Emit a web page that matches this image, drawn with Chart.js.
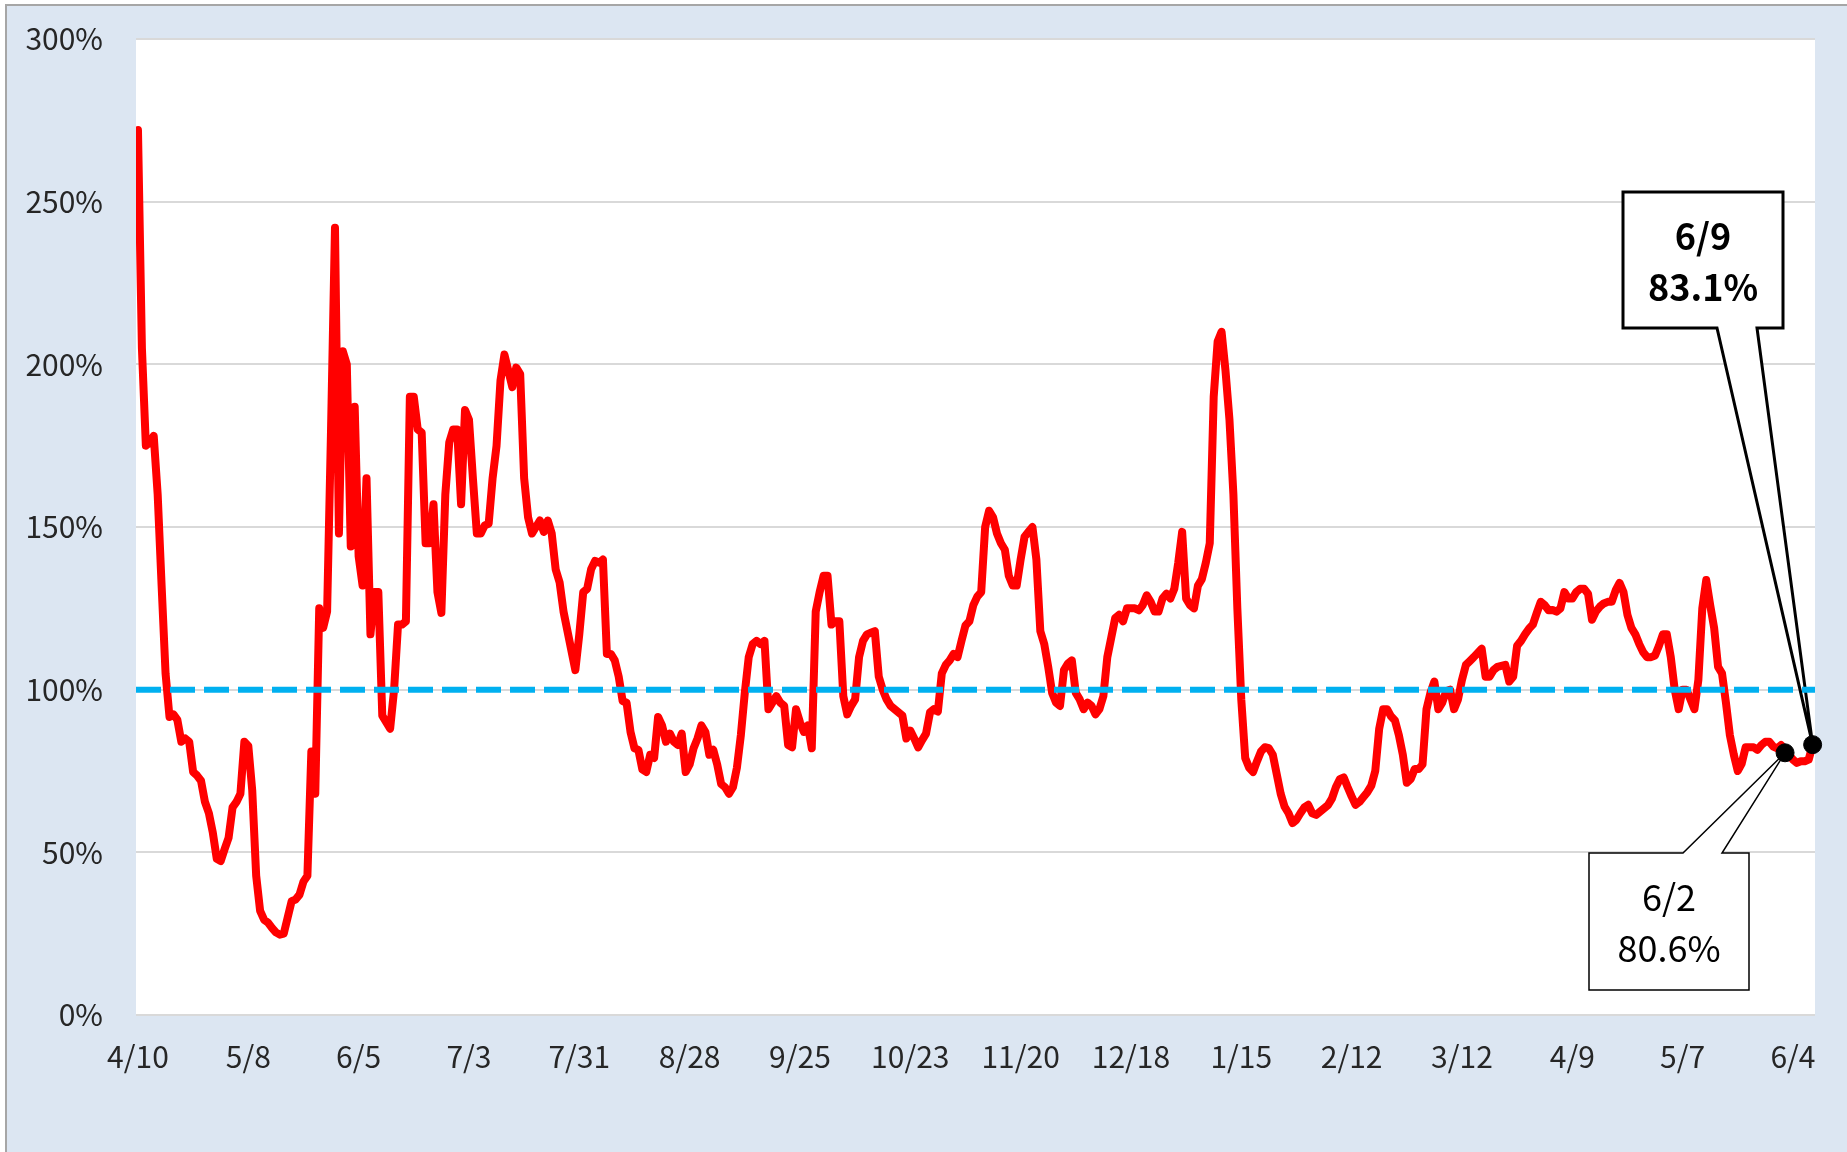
<!DOCTYPE html>
<html lang="ja">
<head>
<meta charset="utf-8">
<title>chart</title>
<script src="https://cdn.jsdelivr.net/npm/chart.js@4.4.1/dist/chart.umd.min.js"></script>
<style>
  html, body { margin: 0; padding: 0; background: #fff; }
  #wrap { position: relative; width: 1847px; height: 1152px; }
</style>
</head>
<body>
<div id="wrap"><canvas id="grafico"></canvas></div>
<script>
// x axis tick labels, one every 28 days starting 4/10
const tickLabels = ["4/10", "5/8", "6/5", "7/3", "7/31", "8/28", "9/25", "10/23",
  "11/20", "12/18", "1/15", "2/12", "3/12", "4/9", "5/7", "6/4"];
const tickStep = 28;

// daily ratio (%) from 4/10 to 6/9
const ratio = [
  272, 205, 175, 176, 178, 160, 132, 105, 91.6, 92.4,
  90.7, 84, 85, 84, 74.7, 73.6, 72, 65.5, 62, 56,
  48, 47.3, 51, 54.5, 63.8, 65.5, 68, 84, 82.7, 69,
  42.8, 32, 29.3, 28.4, 26.8, 25.4, 24.7, 25, 30, 35,
  35.5, 37, 41, 42.8, 81, 68, 125, 119, 124, 180,
  242, 148, 204, 200, 144, 187, 141, 132, 165, 117,
  130, 130, 92, 90, 88, 100, 120, 120, 121, 190,
  190, 180, 179, 145, 145, 157, 130, 123.6, 160, 176,
  180, 180, 157, 186, 183, 165, 148, 148, 150.5, 151,
  165, 175, 195, 203, 198, 193, 199, 197, 165, 153,
  148, 150, 152, 148.5, 152, 148, 137, 133, 124, 118,
  112, 106, 117, 130, 131, 137, 139.6, 139, 140, 111,
  111, 109, 104, 96.5, 96, 87, 82, 81.5, 75.5, 74.7,
  80, 79, 91.6, 89, 84, 86.5, 84, 83, 86.5, 74.7,
  77, 82, 85, 89, 87, 80, 81.5, 77, 71, 70,
  68, 70, 76, 86, 99, 110, 114, 115, 114, 115,
  94, 96, 98, 96, 95, 83, 82.3, 94, 90, 87,
  89, 82, 124, 130, 135, 135, 120, 121, 121, 98,
  92.4, 95, 97, 110, 115, 117, 117.5, 118, 104, 100,
  97, 95, 94, 93, 92, 85, 87.4, 85, 82.3, 84.5,
  86.5, 93, 94, 93.3, 105, 107.6, 109, 111, 110, 115,
  119.7, 121, 126, 128.6, 130, 150, 155, 153, 148, 145,
  143, 135, 132, 132, 140, 147, 148.5, 150, 140, 118,
  114, 107, 99, 96, 95, 106, 108, 109, 99, 97,
  94, 96, 95, 92.4, 94, 98, 110, 116, 122, 123,
  121, 125, 125, 125, 124.4, 126, 129, 127, 124, 124,
  128, 129.5, 128, 131, 139, 148.5, 128, 126, 125, 132,
  134, 139, 145, 190, 207, 210, 198, 183, 160, 125,
  97, 79, 76, 74.7, 78, 81, 82.3, 82, 80, 74,
  68, 64, 62, 59, 60, 62, 63.8, 64.6, 62, 61.5,
  62.5, 63.5, 64.5, 66.5, 70, 72.5, 73, 70, 67.2, 64.6,
  65.5, 67, 68.5, 70.5, 75, 88, 94, 94, 91.8, 90.5,
  86, 80, 71.4, 72.5, 75.6, 75.6, 77, 94, 99, 102.5,
  94, 96, 99.5, 100, 94, 97, 103, 107.6, 108.8, 110,
  111.3, 112.6, 104, 104, 106, 107, 107.3, 107.6, 102.5, 104,
  113.5, 115, 117, 118.7, 120, 123.6, 127, 126, 124.4, 124.5,
  124, 125, 130, 128, 128, 130, 131, 131, 129.5, 121.5,
  124, 125.5, 126.5, 127, 127, 130.5, 132.8, 130, 123, 119,
  117, 114, 111.5, 110, 110, 110.5, 113.5, 117, 117, 110,
  100, 94, 100, 100, 97, 94, 103, 125, 133.7, 126,
  119, 107, 105, 96, 86, 80, 75, 77.3, 82.3, 82.3,
  82.3, 81.5, 83, 84, 84, 82.5, 82, 83, 80.6, 80,
  78.5, 77.5, 78, 78, 78.5, 83.1
];

// highlighted points (day index from 4/10) and their labels
const markerDays = [418, 425];
const markerValues = [80.6, 83.1];
const markerTexts = [["6/2", "80.6%"], ["6/9", "83.1%"]];

const baseLine = 100;

const fontFamily = "'Noto Sans CJK JP', 'Noto Sans', sans-serif";
const xMin = -0.5;
const xMax = 425.6;

// callout boxes (pixels) for each marker
const callouts = [
  { box: [1589, 853, 160, 137], base: [1683, 1722], side: "top", bold: false, border: 1.5 },
  { box: [1623, 192, 160, 136], base: [1717, 1757], side: "bottom", bold: true, border: 3 }
];

const ctx = document.getElementById("grafico").getContext("2d");

const points = ratio.map((v, i) => ({ x: i, y: v }));
const markers = markerDays.map((d, i) => ({ x: d, y: markerValues[i] }));

const background = {
  id: "background",
  beforeDraw(chart) {
    const c = chart.ctx;
    const a = chart.chartArea;
    c.save();
    c.fillStyle = "#ffffff";
    c.fillRect(0, 0, chart.width, chart.height);
    c.fillStyle = "#dce6f2";
    c.fillRect(6, 5, chart.width - 6, chart.height - 5);
    c.strokeStyle = "#a6a6a6";
    c.lineWidth = 2;
    c.beginPath();
    c.moveTo(6, chart.height);
    c.lineTo(6, 5);
    c.lineTo(chart.width, 5);
    c.stroke();
    c.fillStyle = "#ffffff";
    c.fillRect(a.left, a.top, a.right - a.left, a.bottom - a.top);
    c.restore();
  }
};

function drawCallout(c, cfg, tip, lines) {
  const [x, y, w, h] = cfg.box;
  c.beginPath();
  if (cfg.side === "bottom") {
    c.moveTo(x, y);
    c.lineTo(x + w, y);
    c.lineTo(x + w, y + h);
    c.lineTo(cfg.base[1], y + h);
    c.lineTo(tip.x, tip.y);
    c.lineTo(cfg.base[0], y + h);
    c.lineTo(x, y + h);
  } else {
    c.moveTo(x, y);
    c.lineTo(cfg.base[0], y);
    c.lineTo(tip.x, tip.y);
    c.lineTo(cfg.base[1], y);
    c.lineTo(x + w, y);
    c.lineTo(x + w, y + h);
    c.lineTo(x, y + h);
  }
  c.closePath();
  c.fillStyle = "#ffffff";
  c.fill();
  c.lineWidth = cfg.border;
  c.lineJoin = "miter";
  c.strokeStyle = "#000000";
  c.stroke();

  c.fillStyle = "#000000";
  c.textAlign = "center";
  c.textBaseline = "middle";
  c.font = (cfg.bold ? "bold " : "") + "36px " + fontFamily;
  const cx = x + w / 2;
  const cy = y + h / 2;
  c.fillText(lines[0], cx, cy - 24);
  c.fillText(lines[1], cx, cy + 27);
}

const calloutPlugin = {
  id: "callouts",
  beforeDatasetsDraw(chart) {
    const c = chart.ctx;
    const sx = chart.scales.x;
    const sy = chart.scales.y;
    c.save();
    callouts.forEach((cfg, i) => {
      const tip = { x: sx.getPixelForValue(markerDays[i]), y: sy.getPixelForValue(markerValues[i]) };
      drawCallout(c, cfg, tip, markerTexts[i]);
    });
    c.restore();
  }
};

Chart.defaults.font.family = fontFamily;

const chart = new Chart(ctx, {
  type: "line",
  data: {
    datasets: [
      {
        label: "marker",
        data: markers,
        showLine: false,
        pointRadius: 9,
        pointBackgroundColor: "#000000",
        pointBorderColor: "#000000",
        clip: false,
        order: 0
      },
      {
        label: "100%",
        data: [{ x: xMin, y: baseLine }, { x: xMax, y: baseLine }],
        borderColor: "#00b0f0",
        borderWidth: 6,
        borderDash: [25, 9],
        pointRadius: 0,
        order: 1
      },
      {
        label: "ratio",
        data: points,
        borderColor: "#ff0000",
        borderWidth: 8,
        pointRadius: 0,
        tension: 0,
        borderJoinStyle: "round",
        borderCapStyle: "round",
        order: 2
      }
    ]
  },
  options: {
    responsive: true,
    maintainAspectRatio: false,
    animation: false,
    layout: { padding: { left: 0, top: 39, right: 32, bottom: 0 } },
    plugins: {
      legend: { display: false },
      tooltip: { enabled: false }
    },
    scales: {
      x: {
        type: "linear",
        min: xMin,
        max: xMax,
        afterBuildTicks(s) {
          s.ticks = tickLabels.map((t, i) => ({ value: i * tickStep }));
        },
        ticks: {
          autoSkip: false,
          maxRotation: 0,
          color: "#262626",
          font: { size: 30 },
          padding: 24,
          callback: (v) => tickLabels[Math.round(v / tickStep)]
        },
        grid: { display: false, drawTicks: false },
        border: { display: false },
        afterFit(s) {
          s.height = 137;
          s.paddingLeft = 0;
          s.paddingRight = 0;
        }
      },
      y: {
        min: 0,
        max: 300,
        ticks: {
          stepSize: 50,
          color: "#262626",
          font: { size: 30 },
          padding: 33,
          callback: (v) => v + "%"
        },
        grid: { color: "#d9d9d9", lineWidth: 2, drawTicks: false },
        border: { display: false },
        afterFit(s) {
          s.width = 136;
          s.paddingTop = 0;
          s.paddingBottom = 0;
        }
      }
    }
  },
  plugins: [background, calloutPlugin]
});
</script>
</body>
</html>
